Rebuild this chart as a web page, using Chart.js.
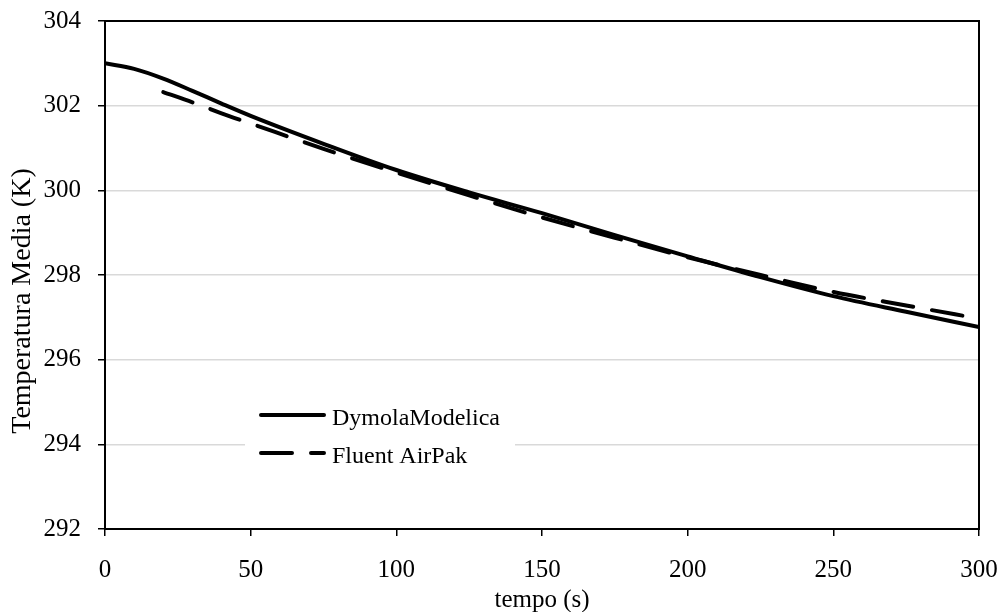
<!DOCTYPE html>
<html>
<head>
<meta charset="utf-8">
<script src="https://cdn.jsdelivr.net/npm/chart.js@4.4.1/dist/chart.umd.min.js"></script>
<style>
  html, body { margin: 0; padding: 0; background: #fff; }
  #wrap { width: 1000px; height: 612px; }
</style>
</head>
<body>
<div id="wrap"><canvas id="chart" width="1000" height="612"></canvas></div>
<script>
// time (s) and mean temperature (K)
const dymolaTime = [0, 10, 20, 30, 40, 50, 75, 100, 125, 150, 175, 200, 225, 250, 275, 300];
const dymolaTemp = [303.0, 302.87, 302.64, 302.35, 302.05, 301.76, 301.10, 300.48, 299.95, 299.46, 298.94, 298.44, 297.95, 297.50, 297.13, 296.77];

const fluentTime = [20, 30, 40, 50, 75, 100, 125, 150, 175, 200, 225, 250, 275, 300];
const fluentTemp = [302.32, 302.08, 301.82, 301.58, 300.98, 300.42, 299.88, 299.36, 298.88, 298.42, 298.00, 297.60, 297.28, 296.97];

const xTicks = [0, 50, 100, 150, 200, 250, 300];
const yTicks = [292, 294, 296, 298, 300, 302, 304];

const serif = '"Liberation Serif", "Times New Roman", serif';

const toPoints = (xs, ys) => xs.map((x, i) => ({ x: x, y: ys[i] }));

// box around plot, y title and legend drawn inside the plot area
const frameAndLegend = {
  id: 'frameAndLegend',
  afterDraw(chart) {
    const ctx = chart.ctx;
    const a = chart.chartArea;
    ctx.save();
    ctx.strokeStyle = '#000';
    ctx.lineWidth = 2;
    ctx.strokeRect(a.left, a.top, a.right - a.left, a.bottom - a.top);

    // y axis title
    ctx.save();
    ctx.translate(23, 301);
    ctx.rotate(-Math.PI / 2);
    ctx.font = '28px ' + serif;
    ctx.fillStyle = '#000';
    ctx.textAlign = 'center';
    ctx.textBaseline = 'middle';
    ctx.fillText('Temperatura Media (K)', 0, 0);
    ctx.restore();

    ctx.fillStyle = '#fff';
    ctx.fillRect(245, 394, 270, 84);

    ctx.font = '24px ' + serif;
    ctx.textBaseline = 'alphabetic';
    chart.data.datasets.forEach((ds, i) => {
      const y = 415 + i * 38;
      ctx.beginPath();
      ctx.strokeStyle = ds.borderColor;
      ctx.lineWidth = ds.borderWidth;
      ctx.lineCap = 'round';
      ctx.setLineDash(ds.borderDash || []);
      ctx.moveTo(261, y);
      ctx.lineTo(324, y);
      ctx.stroke();
      ctx.setLineDash([]);
      ctx.fillStyle = '#000';
      ctx.fillText(ds.label, 332, y + 10);
    });
    ctx.restore();
  }
};

new Chart(document.getElementById('chart'), {
  type: 'scatter',
  data: {
    datasets: [{
      label: 'DymolaModelica',
      data: toPoints(dymolaTime, dymolaTemp),
      showLine: true,
      borderColor: '#000',
      borderWidth: 4,
      borderCapStyle: 'round',
      pointRadius: 0,
      cubicInterpolationMode: 'monotone'
    }, {
      label: 'Fluent AirPak',
      data: toPoints(fluentTime, fluentTemp),
      showLine: true,
      borderColor: '#000',
      borderWidth: 4,
      borderDash: [31, 19],
      borderCapStyle: 'round',
      pointRadius: 0,
      cubicInterpolationMode: 'monotone'
    }]
  },
  options: {
    responsive: false,
    animation: false,
    layout: { padding: { left: 0, right: 21, top: 21, bottom: 0 } },
    plugins: {
      legend: { display: false },
      tooltip: { enabled: false }
    },
    scales: {
      x: {
        type: 'linear',
        min: 0,
        max: 300,
        afterBuildTicks: (s) => { s.ticks = xTicks.map(v => ({ value: v })); },
        afterFit: (s) => { s.height = 83; s.paddingLeft = 0; s.paddingRight = 0; },
        grid: { drawOnChartArea: false, tickLength: 7, tickColor: '#000', lineWidth: 1.5 },
        border: { color: '#000', width: 2 },
        ticks: { color: '#000', font: { family: serif, size: 25 }, padding: 19, maxRotation: 0 },
        title: { display: true, text: 'tempo (s)', color: '#000', font: { family: serif, size: 25 }, padding: { top: 0, bottom: -3 } }
      },
      y: {
        min: 292,
        max: 304,
        afterBuildTicks: (s) => { s.ticks = yTicks.map(v => ({ value: v })); },
        afterFit: (s) => { s.width = 105; s.paddingTop = 0; s.paddingBottom = 0; },
        grid: { color: '#d9d9d9', lineWidth: 1.5, tickLength: 7, tickColor: '#000' },
        border: { color: '#000', width: 2 },
        ticks: { color: '#000', font: { family: serif, size: 25 }, padding: 17 }
      }
    }
  },
  plugins: [frameAndLegend]
});
</script>
</body>
</html>
